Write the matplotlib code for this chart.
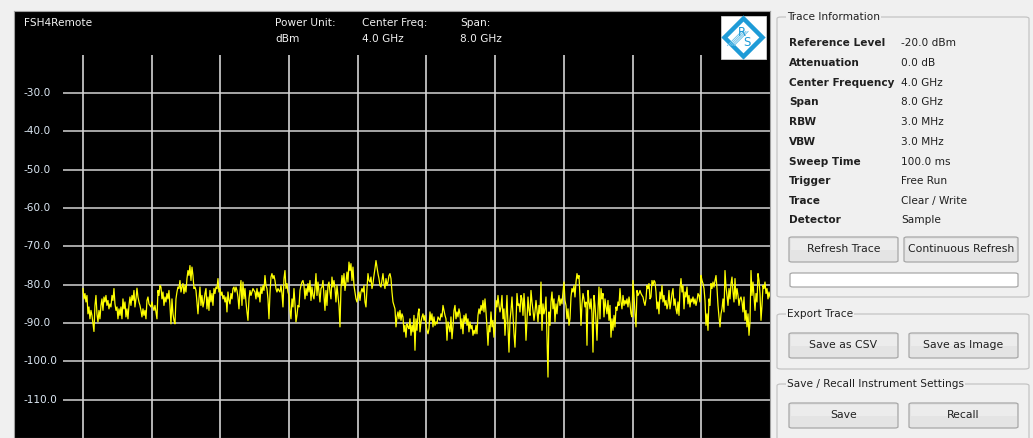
import numpy as np
import matplotlib
matplotlib.use("Agg")
import matplotlib.pyplot as plt
from matplotlib.patches import Rectangle, FancyBboxPatch, Polygon

# ---------------- data ----------------
span_start_ghz = 0.0
span_stop_ghz = 8.0
level_ticks = [-30, -40, -50, -60, -70, -80, -90, -100, -110]
freq_grid = [0.0, 0.8, 1.6, 2.4, 3.2, 4.0, 4.8, 5.6, 6.4, 7.2]

trace_seg1 = [
    -81.0, -83.7, -82.3, -84.5, -82.8, -87.6, -85.8, -88.9, -86.7, -88.0, -90.2, -92.2, -85.4, -82.8, -87.6,
    -89.7, -86.7, -88.9, -85.4, -83.7, -86.7, -83.2, -84.5, -82.8, -85.4, -84.1, -86.3, -85.0, -85.8, -82.8,
    -84.1, -81.0, -85.0, -86.7, -85.8, -88.9, -86.3, -88.0, -85.8, -88.9, -83.7, -86.3, -84.5, -88.4, -86.3,
    -88.9, -85.4, -83.2, -85.4, -82.8, -84.1, -81.5, -85.8, -83.7, -80.9, -83.2, -84.5, -85.4, -86.7, -88.4,
    -86.3, -88.0, -86.7, -88.9, -84.1, -83.2, -85.0, -85.4, -85.8, -84.5, -85.8, -86.7, -85.4, -87.1, -88.9,
    -81.5, -82.8, -80.2, -80.6, -83.7, -81.9, -85.4, -83.2, -84.5, -82.3, -83.7, -81.5, -85.4, -90.2, -83.7,
    -87.6, -89.3, -90.2, -83.7, -81.9, -80.6, -81.0, -78.9, -81.9, -80.6, -79.7, -82.3, -80.2, -81.9, -78.4,
    -76.3, -77.6, -75.0, -78.9, -75.4, -77.6, -81.0, -80.6, -81.5, -84.5, -87.6, -83.7, -80.6, -85.4, -82.8,
    -85.8, -84.5, -82.3, -81.0, -86.3, -83.2, -86.7, -81.5, -84.5, -82.3, -85.4, -81.0, -82.3, -80.6, -81.0,
    -78.4, -81.9, -81.0, -82.8, -81.9, -83.7, -82.8, -84.5, -83.2, -87.1, -81.9, -84.1, -85.0, -82.3, -83.7,
    -81.0, -80.6, -81.9, -80.6, -81.5, -83.2, -86.3, -81.9, -78.9, -85.4, -79.3, -83.7, -81.0, -84.5, -87.1,
    -89.3, -83.7, -81.5, -82.8, -81.9, -81.0, -81.5,
]
trace_seg2 = [
    -81.9, -83.7, -81.0, -83.2, -81.9, -84.5, -80.6, -82.3, -80.2, -81.5, -77.6, -80.2, -81.0, -83.7, -88.9,
    -82.3, -78.0, -77.1, -78.4, -77.6, -78.9, -81.0, -81.9, -81.0, -81.5, -81.9, -80.2, -82.3, -85.8, -78.4,
    -76.3, -81.0, -79.7, -81.9, -82.8, -86.7, -88.9, -83.7, -85.8, -81.0, -85.0, -89.7, -88.0, -85.4, -85.8,
    -81.5, -80.2, -79.3, -78.9, -80.2, -83.7, -81.0, -82.8, -79.7, -81.9, -78.9, -84.1, -80.6, -82.8, -83.7,
    -81.0, -77.1, -82.8, -79.3, -81.9, -84.5, -81.0, -80.6, -78.9, -82.8, -86.7, -81.5, -85.4, -80.2, -79.3,
    -81.9, -83.7, -78.0, -80.6, -78.9, -81.0, -84.5, -80.2, -82.8, -85.4, -91.0, -81.0, -77.6, -80.2, -77.1,
    -81.5, -79.3, -76.7, -79.3, -74.1, -76.3, -74.5, -78.9, -75.4, -80.2, -81.9, -83.7, -84.5, -82.8, -81.9,
    -84.1, -81.9, -81.0, -81.9, -80.2, -84.5, -85.8, -81.0, -77.1, -78.9, -79.3, -78.0, -81.0, -79.7, -77.6,
    -75.8, -73.7, -75.4, -77.1, -78.4, -80.2, -80.6, -78.9, -77.1, -79.7, -81.0, -78.4, -80.2, -79.3, -77.6,
    -77.1, -78.4, -81.9, -84.5, -85.4, -86.3, -91.0, -88.4, -87.1, -88.9, -86.7, -89.3, -87.6, -88.4, -92.3,
    -90.6, -93.7, -90.2, -91.0, -91.5, -88.9, -93.2, -90.6, -92.3, -88.0, -97.1, -88.9, -91.9, -87.6, -86.3,
    -92.3, -89.7, -88.4, -87.6, -89.3, -88.0, -90.6, -91.9,
]
trace_seg3 = [
    -92.8, -91.5, -87.1, -89.3, -87.6, -91.0, -88.4, -90.6, -89.7, -90.2, -88.4, -88.9, -89.3, -87.6, -88.4,
    -85.4, -86.7, -88.0, -88.9, -94.5, -89.7, -91.0, -92.3, -88.4, -94.1, -91.0, -86.7, -85.4, -88.9, -87.1,
    -88.4, -86.3, -87.6, -91.5, -88.9, -92.8, -88.0, -89.7, -87.6, -90.6, -88.9, -92.3, -89.7, -91.5, -90.6,
    -93.2, -91.9, -92.8, -90.6, -92.8, -88.0, -86.3, -87.6, -85.4, -86.7, -84.1, -87.1, -83.7, -87.1, -91.0,
    -95.8, -90.6, -92.3, -87.1, -91.0, -89.3, -93.7, -91.0, -84.1, -85.8, -82.8, -85.4, -87.1, -85.8, -82.8,
    -88.9, -86.3, -93.2, -88.4, -82.8, -91.0, -97.6, -89.3, -86.7, -83.2, -88.0, -92.8, -96.3, -89.7, -82.3,
    -85.4, -85.0, -87.1, -82.8, -83.7, -88.0, -82.3, -86.7, -94.5, -89.3, -83.2, -86.7, -88.0, -81.5, -84.5,
    -86.7, -89.3, -87.1, -84.1, -86.7, -89.7, -85.4, -87.6, -79.3, -91.9, -85.0, -87.6, -86.3, -83.2, -94.1,
    -104.1, -87.1, -90.6, -84.5, -81.9, -86.3, -83.7, -89.7, -85.0, -87.6, -84.5, -82.8, -85.4, -83.7, -85.0,
    -81.9, -79.3, -84.1, -85.4, -88.9, -86.3, -90.6, -88.9, -83.2, -81.0, -81.9, -80.2, -83.2, -79.3, -77.1,
    -78.4, -77.6, -83.2, -90.6, -85.0, -82.3, -83.7, -85.8, -84.5, -95.8, -81.5, -84.5, -86.3, -83.7, -87.6,
    -97.6, -82.8, -85.4, -89.3, -94.5, -86.7, -80.6, -88.9,
]
trace_seg4 = [
    -81.0, -83.7, -82.3, -88.4, -83.7, -85.8, -87.6, -84.1, -89.3, -85.4, -93.7, -88.9, -91.9, -88.0, -91.0,
    -85.8, -86.7, -84.5, -85.4, -81.0, -84.5, -86.3, -82.8, -85.4, -84.1, -85.0, -83.7, -85.8, -83.2, -85.0,
    -87.6, -88.4, -78.9, -82.8, -87.6, -91.0, -81.5, -82.8, -82.3, -81.5, -82.3, -82.8, -83.2, -84.5, -85.4,
    -83.7, -80.2, -81.0, -79.7, -83.7, -83.2, -78.9, -80.2, -78.9, -79.3, -81.9, -86.3, -84.5, -87.6, -81.9,
    -83.7, -80.2, -84.5, -82.8, -85.4, -84.1, -86.3, -85.0, -81.5, -86.3, -84.5, -82.3, -81.0, -85.4, -83.7,
    -86.3, -87.6, -84.5, -88.0, -81.0, -78.4, -81.9, -80.2, -86.3, -81.9, -83.2, -80.6, -85.0, -82.8, -85.8,
    -83.7, -84.5, -83.2, -85.0, -83.7, -85.4, -84.1, -82.3, -82.8, -84.5, -77.6, -78.9, -79.7, -81.0, -84.1,
    -90.6, -87.6, -91.9, -83.7, -85.4, -79.7, -81.0, -79.3, -80.6, -78.9, -77.6, -81.0, -85.4, -88.4, -91.0,
    -87.6, -86.3, -83.7, -87.1, -76.3, -80.6, -82.8, -85.4, -81.0, -83.7, -79.7, -78.0, -81.9, -84.5, -78.4,
    -83.7, -81.0, -82.8, -85.4, -83.7, -83.2, -84.5, -87.1, -83.2, -89.3, -86.7, -91.0, -87.6, -93.2, -89.7,
    -76.3, -82.8, -79.3, -83.2, -86.7, -82.3, -84.5, -77.1, -78.9, -82.3, -89.3, -85.4, -80.2, -81.0, -79.3,
    -82.3, -81.0, -83.7, -81.9, -83.2,
]

header_items = [("Power Unit:", "dBm"), ("Center Freq:", "4.0 GHz"), ("Span:", "8.0 GHz")]
info_labels = ["Reference Level", "Attenuation", "Center Frequency", "Span", "RBW", "VBW",
               "Sweep Time", "Trigger", "Trace", "Detector"]
info_values = ["-20.0 dBm", "0.0 dB", "4.0 GHz", "8.0 GHz", "3.0 MHz", "3.0 MHz",
               "100.0 ms", "Free Run", "Clear / Write", "Sample"]

# ---------------- figure ----------------
W, H = 1033, 438
fig = plt.figure(figsize=(W / 100, H / 100), dpi=100)
fig.patch.set_facecolor("#f0f0f0")

def fx(x):
    return x / W

def fy(y):
    return 1 - y / H

FONT = "DejaVu Sans"
FS = 7.6

ax = fig.add_axes([fx(14), 0, fx(770) - fx(14), fy(11)])
ax.set_facecolor("black")
ax.set_xlim(-0.803, 8.0)
ax.set_ylim(-120.0, -8.57)
ax.set_xticks([])
ax.set_yticks([])
for s in ax.spines.values():
    s.set_color("#a0a0a0")
    s.set_linewidth(0.8)

# grid
ax.vlines(freq_grid, -120, -20, colors="#e6e6e6", linewidth=1.1, zorder=1)
ax.hlines(level_ticks, -0.236, 8.0, colors="#d4d4d4", linewidth=1.1, zorder=1)
for lv in level_ticks:
    ax.text(-0.69, lv, f"{lv:.1f}", color="#dce8f4", fontsize=FS, family=FONT,
            ha="left", va="center")

trace = np.array(trace_seg1 + trace_seg2 + trace_seg3 + trace_seg4)
freqs = np.linspace(span_start_ghz, span_stop_ghz, len(trace))
ax.plot(freqs, trace, color="#ffff00", linewidth=0.9, zorder=3)

# header text in plot
fig.text(fx(24), fy(23), "FSH4Remote", color="#f0f0f0", fontsize=FS, family=FONT, ha="left", va="center")
hx = [275, 362, 460]
for x, (t1, t2) in zip(hx, header_items):
    fig.text(fx(x), fy(23), t1, color="#f0f0f0", fontsize=FS, family=FONT, ha="left", va="center")
    fig.text(fx(x), fy(39), t2, color="#f0f0f0", fontsize=FS, family=FONT, ha="left", va="center")

# logo
fig.patches.append(Rectangle((fx(721), fy(59)), fx(766) - fx(721), fy(16) - fy(59),
                             transform=fig.transFigure, facecolor="white", edgecolor="#d0d0d0", lw=0.6))
cx, cy, r = 743.5, 37.5, 19
fig.patches.append(Polygon([(fx(cx - r), fy(cy)), (fx(cx), fy(cy - r)), (fx(cx + r), fy(cy)), (fx(cx), fy(cy + r))],
                           closed=True, transform=fig.transFigure, facecolor="white",
                           edgecolor="#1e9bd7", lw=3.2, joinstyle="miter"))
for k in range(4):
    off = -5 + k * 2.2
    fig.lines.append(plt.Line2D([fx(cx - 11 + off), fx(cx + 3 + off)], [fy(cy + 8), fy(cy - 6)],
                                transform=fig.transFigure, color="#6fc3ea", lw=0.7))
fig.text(fx(cx - 2), fy(cy - 5), "R", color="#1e9bd7", fontsize=8.5, family=FONT, ha="center", va="center")
fig.text(fx(cx + 3), fy(cy + 5), "S", color="#1e9bd7", fontsize=8.5, family=FONT, ha="center", va="center")

# ---------------- right panel ----------------
def group_box(x0, y0, x1, y1, title):
    fig.patches.append(FancyBboxPatch((fx(x0), fy(y1)), fx(x1) - fx(x0), fy(y0) - fy(y1),
                                      boxstyle="round,pad=0,rounding_size=0.004",
                                      transform=fig.transFigure, facecolor="none",
                                      edgecolor="#c4c4c4", lw=0.9))
    fig.text(fx(787), fy(y0), title, color="#202020", fontsize=FS, family=FONT, ha="left", va="center",
             bbox=dict(facecolor="#f0f0f0", edgecolor="none", pad=1.0))

def button(x0, y0, x1, y1, label):
    fig.patches.append(FancyBboxPatch((fx(x0), fy(y1)), fx(x1) - fx(x0), fy(y0) - fy(y1),
                                      boxstyle="round,pad=0,rounding_size=0.003",
                                      transform=fig.transFigure, facecolor="#e4e4e4",
                                      edgecolor="#a8a8a8", lw=0.9))
    fig.patches.append(Rectangle((fx(x0 + 1.5), fy((y0 + y1) / 2)), fx(x1 - 1.5) - fx(x0 + 1.5),
                                 fy(y0 + 1.5) - fy((y0 + y1) / 2), transform=fig.transFigure,
                                 facecolor="#ececec", edgecolor="none"))
    fig.text(fx((x0 + x1) / 2), fy((y0 + y1) / 2), label, color="#202020", fontsize=FS + 0.2,
             family=FONT, ha="center", va="center")

group_box(777, 17, 1029, 297, "Trace Information")
row_y = [43, 63, 83, 102, 122, 142, 162, 181, 201, 220]
for y, lab, val in zip(row_y, info_labels, info_values):
    fig.text(fx(789), fy(y), lab, color="#202020", fontsize=FS, family=FONT, fontweight="bold",
             ha="left", va="center")
    fig.text(fx(901), fy(y), val, color="#202020", fontsize=FS, family=FONT, ha="left", va="center")
button(789, 237, 898, 262, "Refresh Trace")
button(904, 237, 1018, 262, "Continuous Refresh")
fig.patches.append(FancyBboxPatch((fx(790), fy(287)), fx(1018) - fx(790), fy(273) - fy(287),
                                  boxstyle="round,pad=0,rounding_size=0.003",
                                  transform=fig.transFigure, facecolor="white",
                                  edgecolor="#a8a8a8", lw=0.9))

group_box(777, 314, 1029, 369, "Export Trace")
button(789, 333, 898, 358, "Save as CSV")
button(909, 333, 1018, 358, "Save as Image")

group_box(777, 384, 1029, 460, "Save / Recall Instrument Settings")
button(789, 403, 898, 428, "Save")
button(909, 403, 1018, 428, "Recall")

fig.savefig("out.png", dpi=100, facecolor=fig.get_facecolor())
